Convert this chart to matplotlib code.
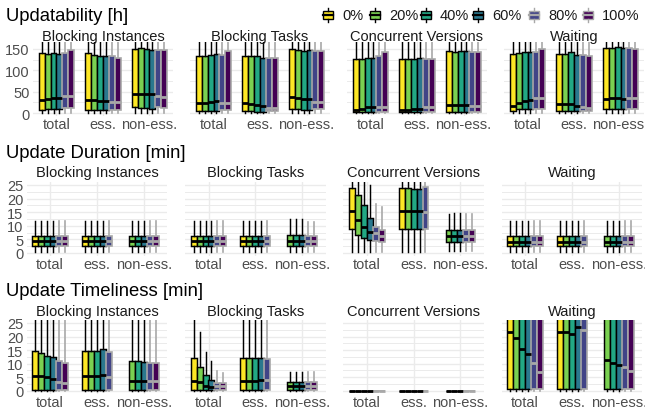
import matplotlib
matplotlib.use("Agg")
import matplotlib.pyplot as plt
from matplotlib.patches import Rectangle

plt.rcParams['font.family'] = ['Liberation Sans', 'DejaVu Sans']

# ---------------------------------------------------------------- data
levels = ["0%", "20%", "40%", "60%", "80%", "100%"]
facets = ["Blocking Instances", "Blocking Tasks", "Concurrent Versions", "Waiting"]
kinds = ["total", "ess.", "non-ess."]
metric_titles = ["Updatability [h]", "Update Duration [min]", "Update Timeliness [min]"]

N = None  # level not present in a group

# Updatability [h]: [facet][kind][level]
upd_lo = [
    [[0.5] * 6, [0.5] * 6, [0.5] * 6],
    [[0.5] * 6, [0.5] * 6, [0.5] * 6],
    [[0] * 6, [0] * 6, [0] * 6],
    [[0.5] * 6, [0.5] * 6, [0.5] * 6],
]
upd_q1 = [
    [[7, 9, 9, 9, 11, 11], [8, 8, 7, 6, 8, 7], [13, 11, 11, 10, 13, 11]],
    [[5, 4, 4, 4, 8, 8], [4, 4, 3, 2, 4, 4], [9, 9, 8, 8, 9, 9]],
    [[2, 2, 2, 2, 3, 3], [2, 2, 2, 2, 3, 3], [2, 2, 2, 2, 3, 3]],
    [[5, 9, 9, 9, 9, 9], [5, 5, 5, 5, 5, 5], [9, 9, 9, 9, 9, 9]],
]
upd_med = [
    [[31, 33, 34, 35, 41, 41], [31, 31, 29, 28, 26, 26], [44, 45, 44, 44, 41, 38]],
    [[23, 23, 25, 29, 24, 24], [23, 21, 19, 17, 11, 11], [37, 34, 33, 33, 25, 25]],
    [[8, 10, 13, 14, 13, 13], [8, 8, 9, 10, 13, 13], [18, 18, 18, 18, 16, 16]],
    [[17, 23, 29, 30, 34, 34], [21, 21, 21, 16, 13, 11], [33, 34, 34, 33, 36, 36]],
]
upd_q3 = [
    [[140, 139, 140, 139, 140, 148], [140, 137, 134, 133, 133, 130], [150, 152, 150, 148, 148, 148]],
    [[133, 134, 136, 138, 136, 146], [133, 134, 133, 130, 130, 128], [150, 148, 146, 148, 146, 146]],
    [[127, 127, 129, 130, 133, 143], [127, 127, 127, 128, 127, 127], [146, 144, 146, 146, 144, 144]],
    [[138, 141, 144, 144, 144, 150], [138, 138, 142, 136, 136, 134], [152, 152, 154, 152, 152, 150]],
]
upd_hi = [
    [[170] * 6, [170] * 6, [170] * 6],
    [[170] * 6, [170] * 6, [170] * 6],
    [[170] * 6, [170] * 6, [170] * 6],
    [[170] * 6, [170] * 6, [170] * 6],
]

# Update Duration [min]
dur_lo = [
    [[0.5] * 6, [0.5] * 5 + [N], [N] + [0.5] * 5],
    [[0.5] * 6, [0.5] * 5 + [N], [N] + [0.5] * 5],
    [[0.5] * 6, [0.5] * 5 + [N], [N] + [0.9] * 5],
    [[0.5] * 6, [0.5] * 5 + [N], [N] + [0.5] * 5],
]
dur_q1 = [
    [[2.5] * 6, [2.5] * 5 + [N], [N] + [2.5] * 5],
    [[2.5] * 6, [2.5] * 5 + [N], [N] + [2.6] * 5],
    [[8.7, 6.6, 5.4, 4.9, 4.3, 4.2], [9.0, 9.0, 9.0, 9.0, 9.0, N], [N, 4.0, 4.0, 4.0, 4.0, 4.0]],
    [[2.5] * 6, [2.5] * 5 + [N], [N] + [2.5] * 5],
]
dur_med = [
    [[4.3] * 6, [4.3] * 5 + [N], [N] + [4.3] * 5],
    [[4.3] * 6, [4.3] * 5 + [N], [N] + [4.4] * 5],
    [[15.4, 12.3, 9.5, 7.8, 7.4, 6.4], [15.4, 15.4, 15.4, 15.4, 15.0, N], [N, 6.4, 6.4, 6.4, 6.4, 6.4]],
    [[4.2] * 6, [4.2] * 5 + [N], [N] + [4.2] * 5],
]
dur_q3 = [
    [[6.2] * 6, [6.2] * 5 + [N], [N] + [6.2] * 5],
    [[6.2] * 6, [6.2] * 5 + [N], [N, 6.6, 6.6, 6.6, 6.1, 6.1]],
    [[23.9, 21.5, 17.8, 13.0, 9.6, 8.4], [23.9, 23.9, 23.6, 23.6, 24.1, N], [N, 8.4, 8.4, 8.4, 8.4, 8.4]],
    [[6.1] * 6, [6.1] * 5 + [N], [N] + [6.1] * 5],
]
dur_hi = [
    [[11.9] * 6, [11.9] * 5 + [N], [N] + [11.9] * 5],
    [[11.9] * 6, [11.9] * 5 + [N], [N, 12.5, 12.5, 12.5, 11.3, 11.3]],
    [[30, 30, 30, 25, 18, 17], [30, 30, 30, 30, 30, N], [N, 14.3, 14.7, 14.7, 14.3, 14.3]],
    [[11.9] * 6, [11.9] * 5 + [N], [N] + [11.9] * 5],
]

# Update Timeliness [min]
tim_lo = [
    [[0] * 6, [0] * 5 + [N], [N] + [0] * 5],
    [[0] * 6, [0] * 5 + [N], [N] + [0] * 5],
    [[0] * 6, [0] * 5 + [N], [N] + [0] * 5],
    [[0] * 6, [0] * 5 + [N], [N] + [0] * 5],
]
tim_q1 = [
    [[0.3] * 6, [0.3] * 5 + [N], [N] + [0.3] * 5],
    [[0.3] * 6, [0.3] * 5 + [N], [N] + [0.3] * 5],
    [[0] * 6, [0] * 5 + [N], [N] + [0] * 5],
    [[0.6] * 6, [0.6] * 5 + [N], [N] + [0.6] * 5],
]
tim_med = [
    [[5.5, 5.3, 4.9, 4.3, 3.3, 2.8], [5.3, 5.3, 5.5, 5.8, 5.2, N], [N, 3.7, 3.7, 3.4, 3.4, 3.4]],
    [[3.5, 3.1, 1.8, 1.5, 1.6, 1.6], [3.7, 3.7, 3.7, 4.0, 4.0, N], [N, 1.6, 1.6, 1.6, 1.6, 1.6]],
    [[0] * 6, [0] * 5 + [N], [N] + [0] * 5],
    [[21.5, 19.3, 15.4, 13.5, 10.1, 7.0], [21.5, 21.8, 20.9, 23.4, 22.5, N], [N, 11.3, 10.2, 9.6, 8.6, 7.4]],
]
tim_q3 = [
    [[14.5, 13.8, 12.9, 12.3, 10.8, 10.2], [14.5, 14.5, 14.5, 15.3, 14.3, N], [N, 10.8, 11.1, 10.5, 10.1, 10.1]],
    [[12.0, 8.9, 5.9, 4.0, 2.7, 2.7], [12.0, 12.0, 12.1, 12.1, 11.8, N], [N, 3.1, 3.1, 3.1, 3.1, 3.1]],
    [[0] * 6, [0] * 5 + [N], [N] + [0] * 5],
    [[60] * 6, [60] * 5 + [N], [N] + [60] * 5],
]
tim_hi = [
    [[40] * 6, [40] * 5 + [N], [N] + [40] * 5],
    [[40, 21.5, 14.2, 11.1, 7.4, 6.4], [40] * 5 + [N], [N] + [6.8] * 5],
    [[0] * 6, [0] * 5 + [N], [N] + [0] * 5],
    [[100] * 6, [100] * 5 + [N], [N] + [100] * 5],
]

metrics = [
    (upd_lo, upd_q1, upd_med, upd_q3, upd_hi),
    (dur_lo, dur_q1, dur_med, dur_q3, dur_hi),
    (tim_lo, tim_q1, tim_med, tim_q3, tim_hi),
]

# ---------------------------------------------------------------- style
fills = ["#FDE725", "#7AD151", "#22A884", "#2A788E", "#414487", "#440154"]
GRAY = "#A8A8A8"
edges = ["#000000"] * 4 + [GRAY] * 2
GRID = "#EBEBEB"
TXT = "#1A1A1A"
TICK = "#4D4D4D"
SLOT = 0.127

W, H = 645, 410
fig = plt.figure(figsize=(W / 100, H / 100), dpi=100)


def fx(px):
    return px / W


def fy(py):
    return 1 - py / H


# per row: first category px, panel step px, category spacing px,
# y-limits, px of value 0, px per unit, major/minor ticks, title/strip baselines
rows = [
    dict(c1=56.5, step=157.0, sp=46.5, ylim=(-7.9, 165.7), y0=114.0, ppu=0.4267,
         major=[0, 50, 100, 150], minor=[25, 75, 125], title_y=20.7, strip_y=40.7),
    dict(c1=50.2, step=158.3, sp=46.8, ylim=(-1.25, 26.25), y0=254.0, ppu=2.72,
         major=[0, 5, 10, 15, 20, 25], minor=[2.5, 7.5, 12.5, 17.5, 22.5], title_y=158.3, strip_y=177.3),
    dict(c1=50.2, step=158.3, sp=46.8, ylim=(-1.25, 26.25), y0=391.7, ppu=2.71,
         major=[0, 5, 10, 15, 20, 25], minor=[2.5, 7.5, 12.5, 17.5, 22.5], title_y=295.7, strip_y=315.7),
]
XM = 0.5  # x expansion on each side, in category units


def draw_panel(ax, stats5, f):
    lo, q1, med, q3, hi = (s[f] for s in stats5)
    for c in range(3):
        present = [k for k in range(6) if med[c][k] is not None]
        n = len(present)
        for i, k in enumerate(present):
            pos = c + 1 + (i - (n - 1) / 2) * SLOT
            st = [dict(med=med[c][k], q1=q1[c][k], q3=q3[c][k],
                       whislo=lo[c][k], whishi=hi[c][k])]
            e = edges[k]
            lw = 1.05 if k < 4 else 1.2
            ax.bxp(st, positions=[pos], widths=SLOT, patch_artist=True,
                   showfliers=False, showcaps=False, manage_ticks=False,
                   boxprops=dict(facecolor=fills[k], edgecolor=e, linewidth=lw),
                   medianprops=dict(color=e, linewidth=2.0),
                   whiskerprops=dict(color=e, linewidth=lw))


for r, row in enumerate(rows):
    y_top = row["y0"] - row["ylim"][1] * row["ppu"]
    y_bot = row["y0"] - row["ylim"][0] * row["ppu"]
    pw = (2 + 2 * XM) * row["sp"]
    for f in range(4):
        left = row["c1"] + f * row["step"] - XM * row["sp"]
        ax = fig.add_axes([fx(left), fy(y_bot), fx(pw), (y_bot - y_top) / H])
        ax.set_xlim(1 - XM, 3 + XM)
        ax.set_ylim(*row["ylim"])
        for s in ax.spines.values():
            s.set_visible(False)
        ax.set_axisbelow(True)
        ax.set_xticks([1, 2, 3])
        ax.set_xticklabels(kinds)
        ax.set_yticks(row["major"])
        ax.set_yticks(row["minor"], minor=True)
        ax.grid(which="major", color=GRID, linewidth=1.0)
        ax.grid(which="minor", axis="y", color=GRID, linewidth=0.7)
        ax.tick_params(which="both", length=0)
        ax.tick_params(axis="x", labelsize=10.5, labelcolor=TICK, pad=0.3)
        ax.tick_params(axis="y", labelsize=10.5, labelcolor=TICK, pad=2.5)
        if f > 0:
            ax.tick_params(axis="y", labelleft=False)
        draw_panel(ax, metrics[r], f)
        fig.text(fx(left + pw / 2), fy(row["strip_y"]), facets[f], ha="center",
                 va="baseline", fontsize=10.5, color=TXT)
    fig.text(fx(6.5), fy(row["title_y"]), metric_titles[r], ha="left", va="baseline",
             fontsize=13.3, color="#000000")

# ---------------------------------------------------------------- legend
lax = fig.add_axes([0, 0, 1, 1])
lax.set_xlim(0, W)
lax.set_ylim(H, 0)
lax.axis("off")
key_left = [323, 370, 421, 473, 529, 583]
for k in range(6):
    x0 = key_left[k]
    e = edges[k]
    kw = 10
    cx = x0 + kw / 2
    lax.plot([cx, cx], [9.0, 12.0], color=e, lw=1.0)
    lax.plot([cx, cx], [20.0, 23.0], color=e, lw=1.0)
    lax.add_patch(Rectangle((x0, 12.0), kw, 8, facecolor=fills[k], edgecolor=e, lw=1.0))
    lax.plot([x0, x0 + kw], [16, 16], color=e, lw=1.6)
    lax.text(x0 + 19, 16.5, levels[k], ha="left", va="center", fontsize=10.5, color=TXT)

fig.savefig("out.png", dpi=100)
